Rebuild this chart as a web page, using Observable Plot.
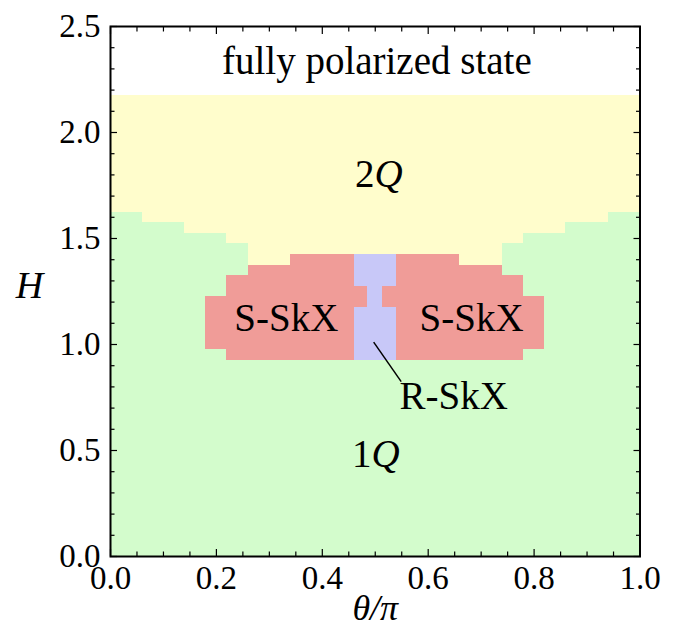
<!DOCTYPE html>
<html><head><meta charset="utf-8">
<script src="https://cdn.jsdelivr.net/npm/d3@7"></script>
<script src="https://cdn.jsdelivr.net/npm/@observablehq/plot@0.6"></script>
<style>body{margin:0;background:#fff;font-family:"Liberation Serif",serif} svg{display:block}</style>
</head><body>
<div id="chart"></div>
<script>
// saturation field (2Q / fully polarized boundary)
const hSat = [2.175];
// 1Q phase columns: theta edges and upper H
const q1X1 = [0, 0.06, 0.14, 0.22, 0.26, 0.74, 0.78, 0.86, 0.94];
const q1X2 = [0.06, 0.14, 0.22, 0.26, 0.74, 0.78, 0.86, 0.94, 1.0];
const q1Top = [1.625, 1.575, 1.525, 1.475, 0.925, 1.475, 1.525, 1.575, 1.625];
// R-SkX block
const rX1 = [0.46], rX2 = [0.54], rLow = [0.925], rHigh = [1.425];
// S-SkX blocks
const sX1 = [0.18, 0.22, 0.26, 0.34, 0.54, 0.66, 0.74, 0.78, 0.46, 0.514];
const sX2 = [0.22, 0.26, 0.34, 0.46, 0.66, 0.74, 0.78, 0.82, 0.486, 0.54];
const sLow = [0.975, 0.925, 0.925, 0.925, 0.925, 0.925, 0.925, 0.975, 1.175, 1.175];
const sHigh = [1.225, 1.325, 1.375, 1.425, 1.425, 1.375, 1.325, 1.225, 1.275, 1.275];
// ticks
const xMajor = [0, 0.2, 0.4, 0.6, 0.8, 1.0];
const xMinor = [0.05,0.1,0.15,0.25,0.3,0.35,0.45,0.5,0.55,0.65,0.7,0.75,0.85,0.9,0.95];
const yMajor = [0, 0.5, 1.0, 1.5, 2.0, 2.5];
const yMinor = [0.1,0.2,0.3,0.4,0.6,0.7,0.8,0.9,1.1,1.2,1.3,1.4,1.6,1.7,1.8,1.9,2.1,2.2,2.3,2.4];
// annotations
const labelText = ["fully polarized state", "S-SkX", "S-SkX", "R-SkX"];
const labelX = [0.503, 0.332, 0.682, 0.648];
const labelY = [2.277, 1.066, 1.066, 0.697];
const numText = ["2", "1"], qText = ["Q", "Q"];
const qX = [0.4986, 0.4929], qY = [1.745, 0.421];
const leaderX = [0.497, 0.549], leaderY = [1.011, 0.825];

const rects = (x1, x2, y1, y2) => x1.map((d, i) => ({x1: d, x2: x2[i], y1: y1[i], y2: y2[i]}));
const yellow = rects([0], [1], [0], hSat);
const green = rects(q1X1, q1X2, q1X1.map(() => 0), q1Top);
const blue = rects(rX1, rX2, rLow, rHigh);
const red = rects(sX1, sX2, sLow, sHigh);
const labels = labelText.map((t, i) => ({t, x: labelX[i], y: labelY[i]}));
const qs = numText.map((t, i) => ({n: t, q: qText[i], x: qX[i], y: qY[i]}));
const leader = [{x1: leaderX[0], y1: leaderY[0], x2: leaderX[1], y2: leaderY[1]}];

const SERIF = "Liberation Serif";
const rectOpts = {x1: "x1", x2: "x2", y1: "y1", y2: "y2", shapeRendering: "crispEdges"};
const fmt = d3.format(".1f");
const FS = 39;
const T = {fill: "#000", fontFamily: SERIF};

const chart = Plot.plot({
  width: 673, height: 629,
  marginLeft: 110, marginRight: 33.5, marginTop: 26, marginBottom: 73,
  style: {fontFamily: SERIF, background: "#fff", color: "#000"},
  x: {domain: [0, 1], label: null},
  y: {domain: [0, 2.5], label: null},
  marks: [
    Plot.rect(yellow, {...rectOpts, fill: "#fffdcc"}),
    Plot.rect(green, {...rectOpts, fill: "#d3fccc"}),
    Plot.rect(blue, {...rectOpts, fill: "#c8c8f8"}),
    Plot.rect(red, {...rectOpts, fill: "#f09c98"}),
    Plot.link(leader, {x1: "x1", y1: "y1", x2: "x2", y2: "y2", stroke: "#000", strokeWidth: 1.5}),
    Plot.text(labels, {x: "x", y: "y", text: "t", fontSize: FS, textAnchor: "middle", lineAnchor: "bottom", ...T}),
    Plot.text(qs, {x: "x", y: "y", text: "n", fontSize: FS, textAnchor: "end", lineAnchor: "bottom", ...T}),
    Plot.text(qs, {x: "x", y: "y", text: "q", fontSize: FS, fontStyle: "italic", textAnchor: "start", lineAnchor: "bottom", ...T}),
    // axis label text
    Plot.text(["H"], {x: [-0.153], y: [1.217], text: d => d, fontSize: 38, fontStyle: "italic", textAnchor: "middle", lineAnchor: "bottom", ...T}),
    Plot.text(["θ/π"], {x: [0.5], y: [-0.30], text: d => d, fontSize: 36, fontStyle: "italic", textAnchor: "middle", lineAnchor: "bottom", ...T}),
    // tick marks (inward, mirrored)
    Plot.axisX(xMinor, {anchor: "bottom", tickSize: -4.5, tickFormat: () => "", strokeWidth: 1.2}),
    Plot.axisX(xMinor, {anchor: "top", tickSize: -4.5, tickFormat: () => "", strokeWidth: 1.2}),
    Plot.axisX(xMajor, {anchor: "bottom", tickSize: -7, tickFormat: () => "", strokeWidth: 1.2}),
    Plot.axisX(xMajor, {anchor: "top", tickSize: -7, tickFormat: () => "", strokeWidth: 1.2}),
    Plot.axisY(yMinor, {anchor: "left", tickSize: -4.5, tickFormat: () => "", strokeWidth: 1.2}),
    Plot.axisY(yMinor, {anchor: "right", tickSize: -4.5, tickFormat: () => "", strokeWidth: 1.2}),
    Plot.axisY(yMajor, {anchor: "left", tickSize: -7, tickFormat: () => "", strokeWidth: 1.2}),
    Plot.axisY(yMajor, {anchor: "right", tickSize: -7, tickFormat: () => "", strokeWidth: 1.2}),
    // tick labels
    Plot.axisX(xMajor, {anchor: "bottom", tickSize: 0, tickPadding: 9, tickFormat: fmt, fontSize: 33, ...T}),
    Plot.axisY(yMajor, {anchor: "left", tickSize: 0, tickPadding: 10, tickFormat: fmt, fontSize: 33, ...T}),
    Plot.frame({stroke: "#000", strokeWidth: 2})
  ]
});
document.getElementById("chart").appendChild(chart);
</script>
</body></html>
